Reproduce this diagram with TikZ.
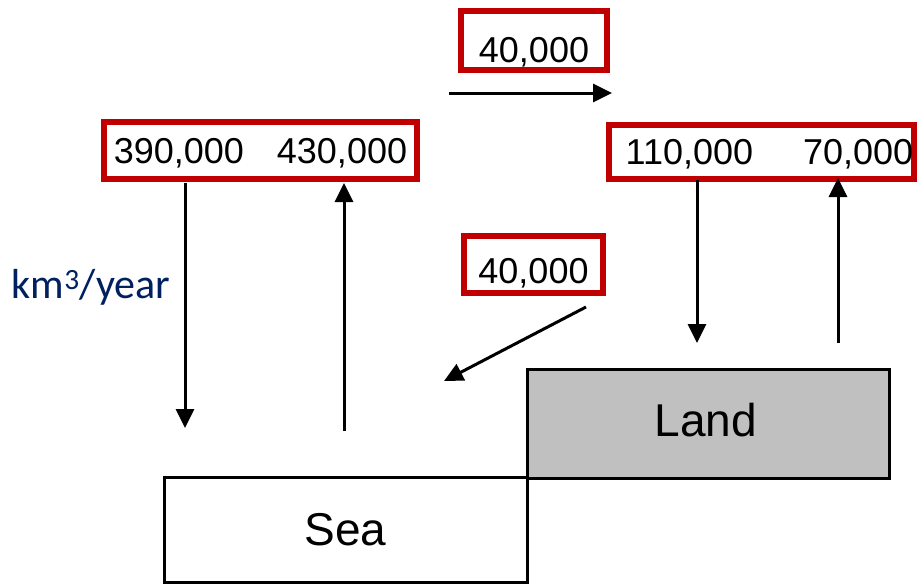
\documentclass[tikz,border=0pt]{standalone}
\usepackage{fontspec}
\setmainfont{Liberation Sans}
\newfontfamily\unitfont{Carlito}
\usetikzlibrary{arrows.meta}

\definecolor{boxred}{RGB}{192,0,0}
\definecolor{unitblue}{RGB}{0,32,96}
\definecolor{landgray}{RGB}{192,192,192}

\tikzset{
  valbox/.style={draw=boxred, line width=6pt, inner sep=0pt, text depth=0pt,
    font=\fontsize{36}{40}\selectfont},
  flow/.style={line width=3pt, -{Triangle[length=19pt,width=18pt]}},
  region/.style={draw=black, line width=3pt, inner sep=0pt,
    font=\fontsize{46}{50}\selectfont}
}

\begin{document}
\begin{tikzpicture}[x=1pt,y=-1pt]
\useasboundingbox (0,0) rectangle (917,587);

% value boxes
\node[valbox, text height=44pt, minimum width=146pt, minimum height=59pt] (topval) at (534,40.5) {40,000};
\node[valbox, text height=38pt, minimum width=139pt, minimum height=57pt] (midval) at (533.5,264.5) {40,000};
\node[valbox, text height=26pt, minimum width=313pt, minimum height=57pt] (seaval) at (260.5,150) {390,000\hspace{33pt}430,000};
\node[valbox, text height=26pt, minimum width=305pt, minimum height=54pt] (landval) at (761.5,151.5) {\hspace*{16pt}110,000\hspace{50pt}70,000};

\node[text=unitblue, font=\unitfont\fontsize{42}{46}\selectfont] (unit) at (91,287) {km\textsuperscript{3}/year};

% regions
\node[region, minimum width=363pt, minimum height=105pt] (sea) at (345.5,530) {Sea};
\node[region, fill=landgray, minimum width=362pt, minimum height=109pt] (land) at (708,423.5) {};
\node[font=\fontsize{46}{50}\selectfont] (landtxt) at (706,420) {Land};

% flows
\coordinate (a1) at (449,93);   \coordinate (a2) at (612,93);
\coordinate (b1) at (185,183);  \coordinate (b2) at (185,428);
\coordinate (c1) at (344,431);  \coordinate (c2) at (344,183);
\coordinate (d1) at (586,307);  \coordinate (d2) at (444,381);
\coordinate (e1) at (697,180);  \coordinate (e2) at (697,343);
\coordinate (f1) at (838,343);  \coordinate (f2) at (838,178);

\foreach \s/\t in {a1/a2,b1/b2,c1/c2,d1/d2,e1/e2,f1/f2}
  \draw[flow] (\s) -- (\t);

\end{tikzpicture}
\end{document}
